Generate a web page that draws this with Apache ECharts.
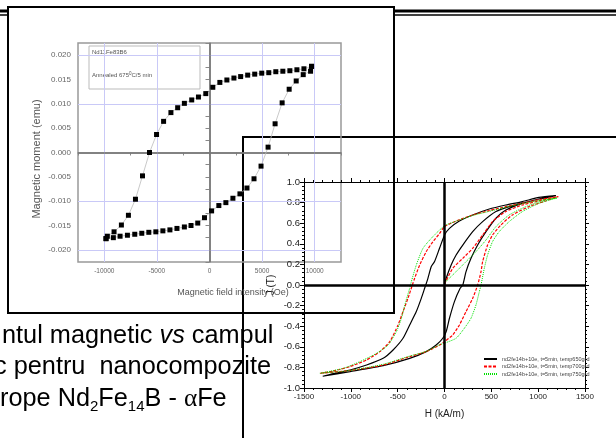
<!DOCTYPE html>
<html>
<head>
<meta charset="utf-8">
<script src="https://cdn.jsdelivr.net/npm/echarts@6/dist/echarts.min.js"></script>
<style>
  html, body { margin: 0; padding: 0; background: #fff; }
  #main { width: 616px; height: 438px; }
</style>
</head>
<body>
<div id="main"></div>
<script>
// ---- chart 1: magnetic moment vs field (Oe) ----
var fieldDown = [9700, 8977, 8309, 7640, 6972, 6303, 5635, 4966, 4298, 3629, 2961, 2321, 1652, 984, 315,
  -353, -1050, -1690, -2388, -3027, -3667, -4364, -5033, -5701, -6370, -7038, -7707, -8375, -9073, -9712, -9837];
var momentDown = [0.0177, 0.0172, 0.0170, 0.0168, 0.0167, 0.0166, 0.0164, 0.0163, 0.0161, 0.0159, 0.0156, 0.0153, 0.0149, 0.0144, 0.0134,
  0.0121, 0.0114, 0.0108, 0.0101, 0.0092, 0.0082, 0.0064, 0.0037, 0.0000, -0.0048, -0.0096, -0.0129, -0.0149, -0.0163, -0.0172, -0.0177];
var fieldUp = [-9837, -9140, -8500, -7802, -7105, -6437, -5768, -5100, -4431, -3763, -3094, -2388, -1757, -1117, -478,
  200, 888, 1557, 2225, 2894, 3562, 4231, 4899, 5568, 6236, 6905, 7573, 8242, 8910, 9607, 9700];
var momentUp = [-0.0177, -0.0175, -0.0172, -0.0170, -0.0168, -0.0166, -0.0164, -0.0163, -0.0161, -0.0159, -0.0156, -0.0153, -0.0150, -0.0145, -0.0134,
  -0.0120, -0.0109, -0.0103, -0.0094, -0.0085, -0.0073, -0.0054, -0.0028, 0.0011, 0.0059, 0.0102, 0.0130, 0.0147, 0.0160, 0.0167, 0.0177];
var gridX1 = [-10000, -5000, 5000, 10000];
var gridY1 = [-0.02, -0.015, -0.01, -0.005, 0.005, 0.01, 0.015, 0.02];

// ---- chart 2: J (T) vs H (kA/m) ----
var loopNames = ['nd2fe14b+10e, t=5min, temp650grd', 'nd2fe14b+10e, t=5min, temp700grd', 'nd2fe14b+10e, t=5min, temp750grd'];
var loop650 = [[0, 0], [18, 0.065], [71, 0.194], [124, 0.291], [195, 0.388], [301, 0.518], [407, 0.615], [549, 0.713], [690, 0.761], [868, 0.803], [1044, 0.842], [1190, 0.868],
  [1009, 0.85], [832, 0.81], [655, 0.777], [478, 0.738], [301, 0.68], [159, 0.621], [53, 0.55], [3, 0.49], [-53, 0.356], [-106, 0.227], [-141, 0.179], [-177, 0.065], [-212, -0.032], [-248, -0.13], [-301, -0.258], [-372, -0.388], [-443, -0.517], [-549, -0.631], [-655, -0.712], [-832, -0.777], [-1009, -0.825], [-1186, -0.86], [-1300, -0.886],
  [-1009, -0.841], [-655, -0.783], [-372, -0.712], [-195, -0.647], [-89, -0.583], [-18, -0.517], [18, -0.452], [53, -0.323], [106, -0.161], [167, -0.032], [195, 0], [230, 0.13], [283, 0.259], [354, 0.388], [443, 0.518], [549, 0.648], [655, 0.728], [832, 0.793], [1009, 0.835], [1190, 0.868]];
var loop700 = [[0, 0.01], [88, 0.162], [195, 0.259], [301, 0.356], [407, 0.485], [513, 0.615], [655, 0.713], [832, 0.777], [1009, 0.816], [1215, 0.858],
  [1009, 0.829], [832, 0.793], [655, 0.761], [478, 0.722], [301, 0.68], [124, 0.621], [0, 0.567], [-53, 0.50], [-124, 0.42], [-195, 0.324], [-265, 0.194], [-319, 0.065], [-343, 0], [-390, -0.129], [-443, -0.258], [-496, -0.388], [-584, -0.55], [-690, -0.647], [-832, -0.728], [-1009, -0.792], [-1186, -0.835], [-1330, -0.857],
  [-1009, -0.83], [-655, -0.777], [-372, -0.695], [-195, -0.647], [-53, -0.583], [0, -0.55], [88, -0.485], [159, -0.388], [230, -0.258], [301, -0.129], [354, 0], [390, 0.13], [407, 0.227], [460, 0.388], [513, 0.485], [602, 0.583], [725, 0.68], [903, 0.761], [1080, 0.816], [1215, 0.858]];
var loop750 = [[0, 0.02], [124, 0.13], [230, 0.227], [336, 0.324], [443, 0.437], [549, 0.567], [690, 0.68], [868, 0.761], [1044, 0.816], [1200, 0.845],
  [1009, 0.82], [832, 0.79], [655, 0.755], [478, 0.715], [301, 0.675], [124, 0.62], [0, 0.575], [-124, 0.47], [-230, 0.356], [-301, 0.194], [-354, 0.033], [-372, -0.032], [-414, -0.161], [-460, -0.323], [-513, -0.452], [-602, -0.583], [-725, -0.663], [-903, -0.744], [-1080, -0.809], [-1330, -0.857],
  [-1009, -0.83], [-655, -0.77], [-372, -0.69], [-195, -0.645], [-53, -0.58], [0, -0.565], [124, -0.517], [212, -0.42], [283, -0.323], [336, -0.194], [372, -0.064], [390, 0], [425, 0.162], [460, 0.291], [513, 0.421], [584, 0.518], [690, 0.615], [832, 0.713], [1009, 0.793], [1200, 0.845]];

var ARIAL = '"Liberation Sans", Arial, sans-serif';

function zip(xs, ys) {
  return xs.map(function (x, i) { return [x, ys[i]]; });
}

var chart = echarts.init(document.getElementById('main'), null, { renderer: 'canvas' });

var gridMarks1 = gridX1.map(function (v) { return { xAxis: v }; })
  .concat(gridY1.map(function (v) { return { yAxis: v }; }));

var dotStyle = {
  type: 'line',
  xAxisIndex: 0,
  yAxisIndex: 0,
  symbol: 'rect',
  symbolSize: 5,
  itemStyle: { color: '#000' },
  lineStyle: { color: '#bbb', width: 0.8 },
  z: 3
};

var option = {
  animation: false,
  textStyle: { fontFamily: ARIAL },
  grid: [
    { left: 78, top: 43, width: 263, height: 219, show: true, borderColor: '#999', borderWidth: 1.5, backgroundColor: 'transparent' },
    { left: 304, top: 182, width: 281, height: 206, show: false }
  ],
  legend: {
    data: loopNames,
    left: 478, top: 351,
    orient: 'vertical',
    itemGap: 1.5,
    itemWidth: 13, itemHeight: 5,
    itemStyle: { opacity: 0 },
    textStyle: { fontSize: 5.5, color: '#444', fontFamily: ARIAL }
  },
  xAxis: [
    {
      type: 'value', gridIndex: 0, min: -12500, max: 12500, interval: 2500,
      axisLine: { lineStyle: { color: '#888', width: 1.5 } },
      axisTick: { length: 3, lineStyle: { color: '#888' } },
      axisLabel: {
        fontSize: 6.5, color: '#666', margin: 6,
        formatter: function (v) { return Math.round(v) % 5000 === 0 ? String(v) : ''; }
      },
      splitLine: { show: false },
      name: 'Magnetic field intensity (Oe)', nameLocation: 'middle', nameGap: 26,
      nameTextStyle: { fontSize: 9, color: '#555', padding: [0, 0, 0, 47] }
    },
    {
      type: 'value', gridIndex: 1, min: -1500, max: 1500, interval: 500,
      axisLine: { onZero: false, lineStyle: { color: '#000', width: 1 } },
      axisTick: { length: 4, lineStyle: { color: '#000' } },
      minorTick: { show: true, splitNumber: 5, length: 2, lineStyle: { color: '#000' } },
      axisLabel: { fontSize: 8, color: '#222', margin: 5, formatter: function (v) { return String(v); } },
      splitLine: { show: false },
      name: 'H (kA/m)', nameLocation: 'middle', nameGap: 21,
      nameTextStyle: { fontSize: 10, color: '#222' }
    },
    {
      type: 'value', gridIndex: 1, position: 'top', min: -1500, max: 1500, interval: 500,
      axisLine: { onZero: false, lineStyle: { color: '#000', width: 1 } },
      axisTick: { length: 4, lineStyle: { color: '#000' } },
      minorTick: { show: true, splitNumber: 5, length: 2, lineStyle: { color: '#000' } },
      axisLabel: { show: false },
      splitLine: { show: false }
    }
  ],
  yAxis: [
    {
      type: 'value', gridIndex: 0, min: -0.0225, max: 0.0225, interval: 0.0025,
      axisLine: { lineStyle: { color: '#888', width: 1.5 } },
      axisTick: { length: 4, lineStyle: { color: '#888' } },
      axisLabel: {
        fontSize: 8, color: '#666', margin: 7,
        formatter: function (v) {
          var k = Math.round(v / 0.0025);
          return k % 2 === 0 ? (k * 0.0025).toFixed(3) : '';
        }
      },
      splitLine: { show: false },
      name: 'Magnetic moment (emu)', nameLocation: 'middle', nameGap: 36, nameRotate: 90,
      nameTextStyle: { fontSize: 11, color: '#555', padding: [0, 13, 0, 0] }
    },
    {
      type: 'value', gridIndex: 1, min: -1, max: 1, interval: 0.2,
      axisLine: { onZero: false, lineStyle: { color: '#000', width: 1 } },
      axisTick: { length: 4, lineStyle: { color: '#000' } },
      minorTick: { show: true, splitNumber: 5, length: 2, lineStyle: { color: '#000' } },
      axisLabel: {
        fontSize: 9.5, color: '#222', margin: 4,
        formatter: function (v) { return v.toFixed(1); }
      },
      splitLine: { show: false },
      name: 'J (T)', nameLocation: 'middle', nameGap: 28, nameRotate: 90,
      nameTextStyle: { fontSize: 10, color: '#222' }
    },
    {
      type: 'value', gridIndex: 1, position: 'right', min: -1, max: 1, interval: 0.2,
      axisLine: { onZero: false, lineStyle: { color: '#000', width: 1 } },
      axisTick: { length: 4, lineStyle: { color: '#000' } },
      minorTick: { show: true, splitNumber: 5, length: 2, lineStyle: { color: '#000' } },
      axisLabel: { show: false },
      splitLine: { show: false }
    }
  ],
  series: [
    Object.assign({}, dotStyle, {
      name: 'down',
      data: zip(fieldDown, momentDown),
      markLine: {
        silent: true, symbol: ['none', 'none'], label: { show: false }, z: 1,
        lineStyle: { color: '#c9c9f7', width: 1, type: 'solid' },
        emphasis: { disabled: true },
        data: gridMarks1.concat([
          { xAxis: 0, lineStyle: { color: '#777', width: 1.5, type: 'solid' } },
          { yAxis: 0, lineStyle: { color: '#777', width: 1.5, type: 'solid' } }
        ])
      }
    }),
    Object.assign({}, dotStyle, { name: 'up', data: zip(fieldUp, momentUp) }),
    {
      name: loopNames[0], type: 'line', xAxisIndex: 1, yAxisIndex: 1,
      data: loop650, showSymbol: false, symbol: 'none', smooth: 0.2,
      lineStyle: { color: '#000', width: 1.2, type: 'solid' },
      itemStyle: { color: '#000' },
      markLine: {
        silent: true, symbol: ['none', 'none'], label: { show: false },
        lineStyle: { color: '#000', width: 2.5, type: 'solid' },
        emphasis: { disabled: true },
        data: [{ xAxis: 0 }, { yAxis: 0 }]
      }
    },
    {
      name: loopNames[1], type: 'line', xAxisIndex: 1, yAxisIndex: 1,
      data: loop700, showSymbol: false, symbol: 'none', smooth: 0.2,
      lineStyle: { color: '#ff0000', width: 1.2, type: [3, 1.5] },
      itemStyle: { color: '#ff0000' }
    },
    {
      name: loopNames[2], type: 'line', xAxisIndex: 1, yAxisIndex: 1,
      data: loop750, showSymbol: false, symbol: 'none', smooth: 0.2,
      lineStyle: { color: '#00e000', width: 1, type: [1, 1] },
      itemStyle: { color: '#00e000' }
    }
  ],
  graphic: {
    elements: [
      // slide rule behind the first frame
      { type: 'line', z: -10, shape: { x1: 0, y1: 11, x2: 8, y2: 11 }, style: { stroke: '#000', lineWidth: 3 } },
      { type: 'line', z: -10, shape: { x1: 0, y1: 15, x2: 8, y2: 15 }, style: { stroke: '#000', lineWidth: 1.5 } },
      { type: 'line', z: -10, shape: { x1: 394, y1: 11, x2: 616, y2: 11 }, style: { stroke: '#000', lineWidth: 3 } },
      { type: 'line', z: -10, shape: { x1: 394, y1: 15, x2: 616, y2: 15 }, style: { stroke: '#000', lineWidth: 1.5 } },
      // slide text
      {
        type: 'text', x: 2, y: 336, z: -8,
        style: {
          text: 'ntul magnetic {i|vs} campul', fill: '#000', fontSize: 25.3, fontFamily: ARIAL,
          verticalAlign: 'middle', lineHeight: 30,
          rich: { i: { fontStyle: 'italic', fontSize: 25.3, fontFamily: ARIAL, lineHeight: 30 } }
        }
      },
      {
        type: 'text', x: -6, y: 367, z: -8,
        style: { text: 'c pentru  nanocompozite', fill: '#000', fontSize: 25.3, fontFamily: ARIAL, verticalAlign: 'middle', lineHeight: 30 }
      },
      {
        type: 'text', x: 0, y: 399, z: -8,
        style: {
          text: 'rope Nd{sub|2}Fe{sub|14}B - {gr|α}Fe', fill: '#000', fontSize: 25.3, fontFamily: ARIAL,
          verticalAlign: 'middle', lineHeight: 30,
          rich: {
            sub: { fontSize: 15, fontFamily: ARIAL, lineHeight: 14, verticalAlign: 'bottom' },
            gr: { fontSize: 25.3, fontFamily: '"Liberation Serif", serif', lineHeight: 30 }
          }
        }
      },
      // frames
      { type: 'rect', z: -5, shape: { x: 8, y: 7, width: 386, height: 306 }, style: { fill: 'none', stroke: '#000', lineWidth: 2 } },
      { type: 'polyline', z: -5, shape: { points: [[243, 440], [243, 137], [618, 137]] }, style: { fill: 'none', stroke: '#000', lineWidth: 2 } },
      // annotation box in chart 1
      { type: 'rect', z: -4, shape: { x: 89, y: 46, width: 111, height: 43 }, style: { fill: 'none', stroke: '#bbb', lineWidth: 1 } },
      { type: 'text', x: 92, y: 52, style: { text: 'Nd11Fe83B6', fill: '#555', fontSize: 6, fontFamily: ARIAL, verticalAlign: 'middle' } },
      {
        type: 'text', x: 92, y: 75,
        style: {
          text: 'Annealed 675{sup|0}C/5 min', fill: '#555', fontSize: 6, fontFamily: ARIAL, verticalAlign: 'middle', lineHeight: 8,
          rich: { sup: { fontSize: 4.5, fontFamily: ARIAL, lineHeight: 5, verticalAlign: 'top' } }
        }
      }
    ]
  }
};

chart.setOption(option);
</script>
</body>
</html>
